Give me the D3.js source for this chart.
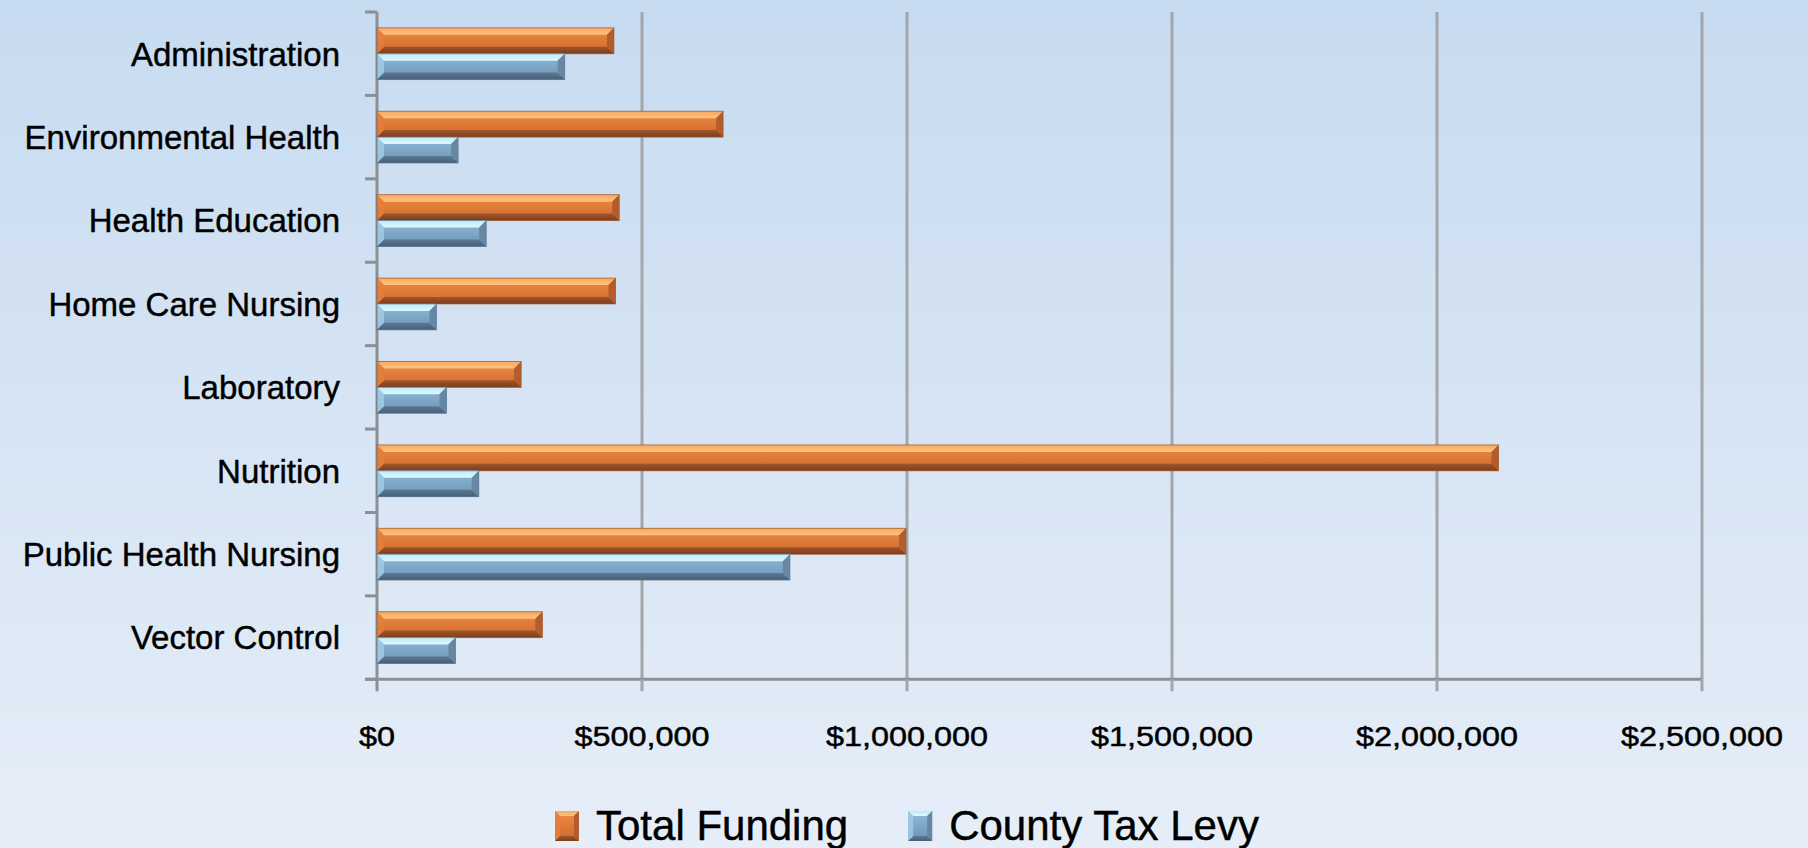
<!DOCTYPE html>
<html>
<head>
<meta charset="utf-8">
<script src="https://cdn.jsdelivr.net/npm/d3@7"></script>
<style>
  html, body { margin: 0; padding: 0; background: #dde8f4; }
  svg { display: block; }
  text { font-family: "Liberation Sans", Arial, sans-serif; fill: #000; stroke: #000; stroke-width: 0.45px; }
</style>
</head>
<body>
<svg id="chart" width="1808" height="848"></svg>
<script>
// ---- data ----
const categories = ["Administration", "Environmental Health", "Health Education", "Home Care Nursing",
                    "Laboratory", "Nutrition", "Public Health Nursing", "Vector Control"];
const totalFunding  = [447000, 653000, 457000, 450000, 272000, 2116000, 998000, 312000];
const countyTaxLevy = [354000, 153000, 206000, 112000, 131000, 192000, 779000, 148000];
const seriesNames = ["Total Funding", "County Tax Levy"];
const xTickValues = [0, 500000, 1000000, 1500000, 2000000, 2500000];

// ---- setup ----
const W = 1808, H = 848;
const svg = d3.select("#chart");
const defs = svg.append("defs");

const bg = defs.append("linearGradient").attr("id", "bg").attr("x1", 0).attr("y1", 0).attr("x2", 0).attr("y2", 1);
bg.append("stop").attr("offset", "0%").attr("stop-color", "#c7dbf0");
bg.append("stop").attr("offset", "100%").attr("stop-color", "#e6eef8");
svg.append("rect").attr("width", W).attr("height", H).attr("fill", "url(#bg)");

const x = d3.scaleLinear().domain([0, 2500000]).range([377, 1702]);
const y0 = d3.scaleBand().domain(categories).range([12, 679.3]).paddingInner(0.38).paddingOuter(0.19);
const y1 = d3.scaleBand().domain(seriesNames).range([0, y0.bandwidth()]);
const step = y0.step();
const yTop = 12, yBot = 679.3;

const styles = {
  "Total Funding": {
    face: ["#f08c44", "#cc692d"], top: ["#f7a862", "#ffc380"], bottom: ["#a0552a", "#7a3e1e"],
    right: "#b25d2b", left: "#e5803b", stroke: "#9a5a32"
  },
  "County Tax Levy": {
    face: ["#90bbd9", "#6c93b4"], top: ["#c0eafa", "#dcfaff"], bottom: ["#5b7994", "#485f77"],
    right: "#6887a3", left: "#a2cde6", stroke: "#5a7590"
  }
};

function vgrad(id, c0, c1) {
  const g = defs.append("linearGradient").attr("id", id).attr("x1", 0).attr("y1", 0).attr("x2", 0).attr("y2", 1);
  g.append("stop").attr("offset", "0%").attr("stop-color", c0);
  g.append("stop").attr("offset", "100%").attr("stop-color", c1);
}
seriesNames.forEach((s, i) => {
  const st = styles[s];
  vgrad("face" + i, st.face[0], st.face[1]);
  vgrad("top" + i, st.top[0], st.top[1]);
  vgrad("bot" + i, st.bottom[0], st.bottom[1]);
});

// ---- gridlines ----
svg.append("g").selectAll("line").data(xTickValues.filter(v => v > 0)).join("line")
  .attr("x1", d => x(d)).attr("x2", d => x(d))
  .attr("y1", yTop).attr("y2", yBot)
  .attr("stroke", "#a4a6a9").attr("stroke-width", 3);

// ---- axes ----
const axisColor = "#8c8f93";
const axG = svg.append("g");
axG.append("line").attr("x1", x(0) - 12).attr("x2", x(2500000)).attr("y1", yBot).attr("y2", yBot)
  .attr("stroke", axisColor).attr("stroke-width", 3);
axG.selectAll(".xt").data(xTickValues).join("line").attr("class", "xt")
  .attr("x1", d => x(d)).attr("x2", d => x(d)).attr("y1", yBot).attr("y2", yBot + 12)
  .attr("stroke", d => d === 0 ? axisColor : "#a4a6a9").attr("stroke-width", 3);
axG.append("line").attr("x1", x(0)).attr("x2", x(0)).attr("y1", yTop).attr("y2", yBot)
  .attr("stroke", axisColor).attr("stroke-width", 3);
const boundaries = d3.range(categories.length + 1).map(i => y0.range()[0] + i * step);
axG.selectAll(".yt").data(boundaries).join("line").attr("class", "yt")
  .attr("x1", x(0) - 12).attr("x2", x(0)).attr("y1", d => d).attr("y2", d => d)
  .attr("stroke", axisColor).attr("stroke-width", 3);

// ---- bars ----
const barData = [];
categories.forEach((c, i) => {
  barData.push({ cat: c, series: seriesNames[0], si: 0, value: totalFunding[i] });
  barData.push({ cat: c, series: seriesNames[1], si: 1, value: countyTaxLevy[i] });
});

const bars = svg.append("g").selectAll("g.bar").data(barData).join("g").attr("class", "bar");
bars.each(function(d) {
  const g = d3.select(this);
  const st = styles[d.series];
  const x0 = x(0), xe = x(d.value);
  const yb = y0(d.cat) + y1(d.series), h = y1.bandwidth();
  const w = xe - x0;
  const b = Math.min(7, w / 2, h / 3.5);
  const pts = a => a.map(p => p.join(",")).join(" ");
  g.append("rect").attr("x", x0).attr("y", yb).attr("width", w).attr("height", h).attr("fill", `url(#face${d.si})`);
  g.append("polygon").attr("points", pts([[x0, yb], [xe, yb], [xe - b, yb + b], [x0 + b, yb + b]]))
    .attr("fill", `url(#top${d.si})`);
  g.append("polygon").attr("points", pts([[x0, yb + h], [xe, yb + h], [xe - b, yb + h - b], [x0 + b, yb + h - b]]))
    .attr("fill", `url(#bot${d.si})`);
  g.append("polygon").attr("points", pts([[xe, yb], [xe, yb + h], [xe - b, yb + h - b], [xe - b, yb + b]]))
    .attr("fill", st.right);
  g.append("polygon").attr("points", pts([[x0, yb], [x0, yb + h], [x0 + b, yb + h - b], [x0 + b, yb + b]]))
    .attr("fill", st.left).attr("opacity", 0.8);
  g.append("rect").attr("x", x0).attr("y", yb).attr("width", w).attr("height", h)
    .attr("fill", "none").attr("stroke", st.stroke).attr("stroke-width", 1).attr("opacity", 0.7);
});

// ---- category labels ----
svg.append("g").selectAll("text").data(categories).join("text")
  .attr("x", 340).attr("y", d => y0(d) + y0.bandwidth() / 2 + 11.8)
  .attr("text-anchor", "end").style("font-size", "33px")
  .text(d => d);

// ---- x tick labels ----
const fmt = d3.format("$,");
svg.append("g").selectAll("text").data(xTickValues).join("text")
  .attr("text-anchor", "middle").style("font-size", "27px")
  .attr("transform", d => `translate(${x(d)},746) scale(1.2,1)`)
  .text(d => fmt(d));

// ---- legend ----
const leg = svg.append("g");
let lx = 555;
seriesNames.forEach((s, i) => {
  const st = styles[s];
  const sq = leg.append("g");
  const sx = lx, sy = 811, sw = 24, sh = 30, sb = 5;
  const pts = a => a.map(p => p.join(",")).join(" ");
  sq.append("rect").attr("x", sx).attr("y", sy).attr("width", sw).attr("height", sh).attr("fill", `url(#face${i})`);
  sq.append("polygon").attr("points", pts([[sx, sy], [sx + sw, sy], [sx + sw - sb, sy + sb], [sx + sb, sy + sb]])).attr("fill", `url(#top${i})`);
  sq.append("polygon").attr("points", pts([[sx, sy + sh], [sx + sw, sy + sh], [sx + sw - sb, sy + sh - sb], [sx + sb, sy + sh - sb]])).attr("fill", `url(#bot${i})`);
  sq.append("polygon").attr("points", pts([[sx + sw, sy], [sx + sw, sy + sh], [sx + sw - sb, sy + sh - sb], [sx + sw - sb, sy + sb]])).attr("fill", st.right);
  sq.append("polygon").attr("points", pts([[sx, sy], [sx, sy + sh], [sx + sb, sy + sh - sb], [sx + sb, sy + sb]])).attr("fill", st.left).attr("opacity", 0.8);
  const t = leg.append("text").attr("x", lx + 41).attr("y", 840).style("font-size", "42px").text(s);
  const tw = t.node().getComputedTextLength();
  lx = lx + 41 + tw + 60;
});
</script>
</body>
</html>
